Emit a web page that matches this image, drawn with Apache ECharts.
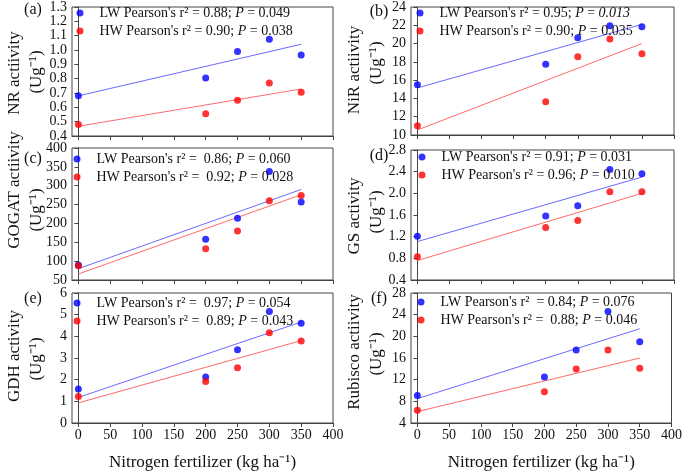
<!DOCTYPE html>
<html><head><meta charset="utf-8">
<script src="https://cdn.jsdelivr.net/npm/echarts@6/dist/echarts.min.js"></script>
<style>html,body{margin:0;padding:0;background:#fff}#c{width:685px;height:473px}</style>
</head><body><div id="c"></div>
<script>
// ---------- data ----------
const nitrogen = [0, 200, 250, 300, 350];
const fitX = [0, 350];
const xTicks = [0, 50, 100, 150, 200, 250, 300, 350, 400];
const xTitle = 'Nitrogen fertilizer (kg ha\u207B\u00B9)';

const nrLW = [0.68, 0.805, 0.99, 1.075, 0.965];
const nrHW = [0.48, 0.555, 0.65, 0.77, 0.705];
const nrFitLW = [0.68, 1.04];
const nrFitHW = [0.468, 0.728];
const nrTicks = [0.4, 0.5, 0.6, 0.7, 0.8, 0.9, 1.0, 1.1, 1.2, 1.3];

const nirLW = [15.5, 17.75, 20.65, 21.95, 21.85];
const nirHW = [11.0, 13.65, 18.55, 20.5, 18.9];
const nirFitLW = [15.15, 22.1];
const nirFitHW = [10.55, 20.0];
const nirTicks = [10, 12, 14, 16, 18, 20, 22, 24];

const gogatLW = [90, 158, 214, 338, 257];
const gogatHW = [88, 133, 180, 260, 274];
const gogatFitLW = [80, 290];
const gogatFitHW = [66, 276];
const gogatTicks = [50, 100, 150, 200, 250, 300, 350, 400];

const gsLW = [1.21, 1.58, 1.77, 2.44, 2.36];
const gsHW = [0.83, 1.37, 1.50, 2.03, 2.03];
const gsFitLW = [1.11, 2.30];
const gsFitHW = [0.76, 2.00];
const gsTicks = [0.4, 0.8, 1.2, 1.6, 2.0, 2.4, 2.8];

const gdhLW = [1.57, 2.12, 3.38, 5.15, 4.6];
const gdhHW = [1.22, 1.92, 2.55, 4.17, 3.78];
const gdhFitLW = [1.18, 4.66];
const gdhFitHW = [0.93, 3.80];
const gdhTicks = [0, 1, 2, 3, 4, 5, 6];

const rubLW = [9.1, 12.5, 17.5, 24.6, 19.0];
const rubHW = [6.35, 9.75, 13.95, 17.5, 14.1];
const rubFitLW = [8.5, 21.4];
const rubFitHW = [6.1, 16.0];
const rubTicks = [4, 8, 12, 16, 20, 24, 28];

const panelLabels = ['(a)', '(b)', '(c)', '(d)', '(e)', '(f)'];
const yTitles = ['NR actiivity', 'NiR actiivity', 'GOGAT actiivity', 'GS activity', 'GDH activity', 'Rubisco actiivity'];
const yUnit = '(Ug\u207B\u00B9)';
const legendLW = [
  "LW Pearson's r\u00B2 = 0.88; {i|P} = 0.049",
  "LW Pearson's r\u00B2 = 0.95; {i|P} = {i|0.013}",
  "LW Pearson's r\u00B2 =  0.86; {i|P} = 0.060",
  "LW Pearson's r\u00B2 = 0.91; {i|P} = 0.031",
  "LW Pearson's r\u00B2 =  0.97; {i|P} = 0.054",
  "LW Pearson's r\u00B2  = 0.84; {i|P} = 0.076"
];
const legendHW = [
  "HW Pearson's r\u00B2 = 0.90; {i|P} = 0.038",
  "HW Pearson's r\u00B2 = 0.90; {i|P} = 0.035",
  "HW Pearson's r\u00B2 =  0.92; {i|P} = 0.028",
  "HW Pearson's r\u00B2 = 0.96; {i|P} = 0.010",
  "HW Pearson's r\u00B2 =  0.89; {i|P} = 0.043",
  "HW Pearson's r\u00B2 =  0.88; {i|P} = 0.046"
];

const dataLW = [nrLW, nirLW, gogatLW, gsLW, gdhLW, rubLW];
const dataHW = [nrHW, nirHW, gogatHW, gsHW, gdhHW, rubHW];
const fitLW = [nrFitLW, nirFitLW, gogatFitLW, gsFitLW, gdhFitLW, rubFitLW];
const fitHW = [nrFitHW, nirFitHW, gogatFitHW, gsFitHW, gdhFitHW, rubFitHW];
const yTicks = [nrTicks, nirTicks, gogatTicks, gsTicks, gdhTicks, rubTicks];
const yDecimals = [1, 0, 0, 1, 0, 0];

// ---------- layout ----------
const FONT = '"Liberation Serif", "Times New Roman", serif';
const grids = [
  {left: 72, top: 5, width: 261, height: 131},
  {left: 411, top: 5, width: 263, height: 130},
  {left: 72, top: 148, width: 261, height: 132},
  {left: 411, top: 150, width: 263, height: 130},
  {left: 72, top: 293, width: 261, height: 130},
  {left: 411, top: 293, width: 263, height: 130}
];
const legendDot = [[80, 13], [420, 13], [77, 159], [422, 157], [77, 303], [421, 302]];
const labelPos = [[33, 10], [379, 12], [33, 159], [379, 156], [33, 299], [379, 299]];
const titlePos = [[15, 73, 37, 72], [355, 70, 377, 63], [15, 190, 37, 210], [355, 216, 377, 212], [15, 356, 37, 359], [355, 352, 377, 354]];

const option = {
  backgroundColor: '#fff',
  animation: false,
  grid: grids.map(g => Object.assign({show: true, borderColor: '#444', borderWidth: 1, backgroundColor: 'transparent'}, g)),
  xAxis: grids.map((g, i) => ({
    type: 'value', gridIndex: i, min: -10, max: 400,
    splitLine: {show: false},
    axisLine: {show: true, lineStyle: {color: '#444', width: 1}},
    axisTick: {show: true, inside: false, length: 4, customValues: xTicks, lineStyle: {color: '#444'}},
    axisLabel: {show: i >= 4, customValues: xTicks, margin: 5, fontFamily: FONT, fontSize: 14, color: '#111'},
    name: i >= 4 ? xTitle : '',
    nameLocation: 'middle', nameGap: 31,
    nameTextStyle: {fontFamily: FONT, fontSize: 17, color: '#111'}
  })),
  yAxis: grids.map((g, i) => ({
    type: 'value', gridIndex: i,
    min: yTicks[i][0], max: yTicks[i][yTicks[i].length - 1],
    splitLine: {show: false},
    axisLine: {show: true, lineStyle: {color: '#444', width: 1}},
    axisTick: {show: true, inside: false, length: 4, customValues: yTicks[i], lineStyle: {color: '#444'}},
    axisLabel: {customValues: yTicks[i], margin: 5, fontFamily: FONT, fontSize: 14, color: '#111',
      formatter: v => Number(v).toFixed(yDecimals[i])}
  })),
  legend: grids.map((g, i) => ({
    left: legendDot[i][0] - 3.5, top: legendDot[i][1] - 8, orient: 'vertical', padding: 0,
    itemWidth: 7, itemHeight: 7, itemGap: 2, icon: 'circle', selectedMode: false,
    data: ['LW' + i, 'HW' + i],
    formatter: n => (n.startsWith('LW') ? legendLW : legendHW)[+n.slice(2)],
    textStyle: {fontFamily: FONT, fontSize: 14, color: '#111', lineHeight: 16, padding: [0, 0, 0, 11],
      rich: {i: {fontFamily: FONT, fontSize: 14, fontStyle: 'italic', color: '#111', lineHeight: 16}}}
  })),
  series: [],
  graphic: []
};

for (let i = 0; i < 6; i++) {
  option.series.push({
    type: 'line', xAxisIndex: i, yAxisIndex: i, silent: true, showSymbol: false, symbol: 'none',
    lineStyle: {color: '#6a6aff', width: 1}, z: 1,
    data: fitX.map((x, k) => [x, fitLW[i][k]])
  });
  option.series.push({
    type: 'line', xAxisIndex: i, yAxisIndex: i, silent: true, showSymbol: false, symbol: 'none',
    lineStyle: {color: '#ff6a6a', width: 1}, z: 1,
    data: fitX.map((x, k) => [x, fitHW[i][k]])
  });
  option.series.push({
    name: 'LW' + i, type: 'scatter', xAxisIndex: i, yAxisIndex: i, symbol: 'circle', symbolSize: 7,
    itemStyle: {color: '#0000ff'}, z: 3,
    data: nitrogen.map((x, k) => [x, dataLW[i][k]])
  });
  option.series.push({
    name: 'HW' + i, type: 'scatter', xAxisIndex: i, yAxisIndex: i, symbol: 'circle', symbolSize: 7,
    itemStyle: {color: '#ff0000'}, z: 3,
    data: nitrogen.map((x, k) => [x, dataHW[i][k]])
  });
  option.graphic.push({
    type: 'text', x: labelPos[i][0], y: labelPos[i][1],
    style: {text: panelLabels[i], font: '16px ' + FONT, fill: '#111', align: 'center', verticalAlign: 'middle'}
  });
  option.graphic.push({
    type: 'text', x: titlePos[i][0], y: titlePos[i][1], rotation: Math.PI / 2,
    style: {text: yTitles[i], font: '17px ' + FONT, fill: '#111', align: 'center', verticalAlign: 'middle'}
  });
  option.graphic.push({
    type: 'text', x: titlePos[i][2], y: titlePos[i][3], rotation: Math.PI / 2,
    style: {text: yUnit, font: '17px ' + FONT, fill: '#111', align: 'center', verticalAlign: 'middle'}
  });
}

const chart = echarts.init(document.getElementById('c'), null, {renderer: 'canvas'});
chart.setOption(option);
</script>
</body></html>
